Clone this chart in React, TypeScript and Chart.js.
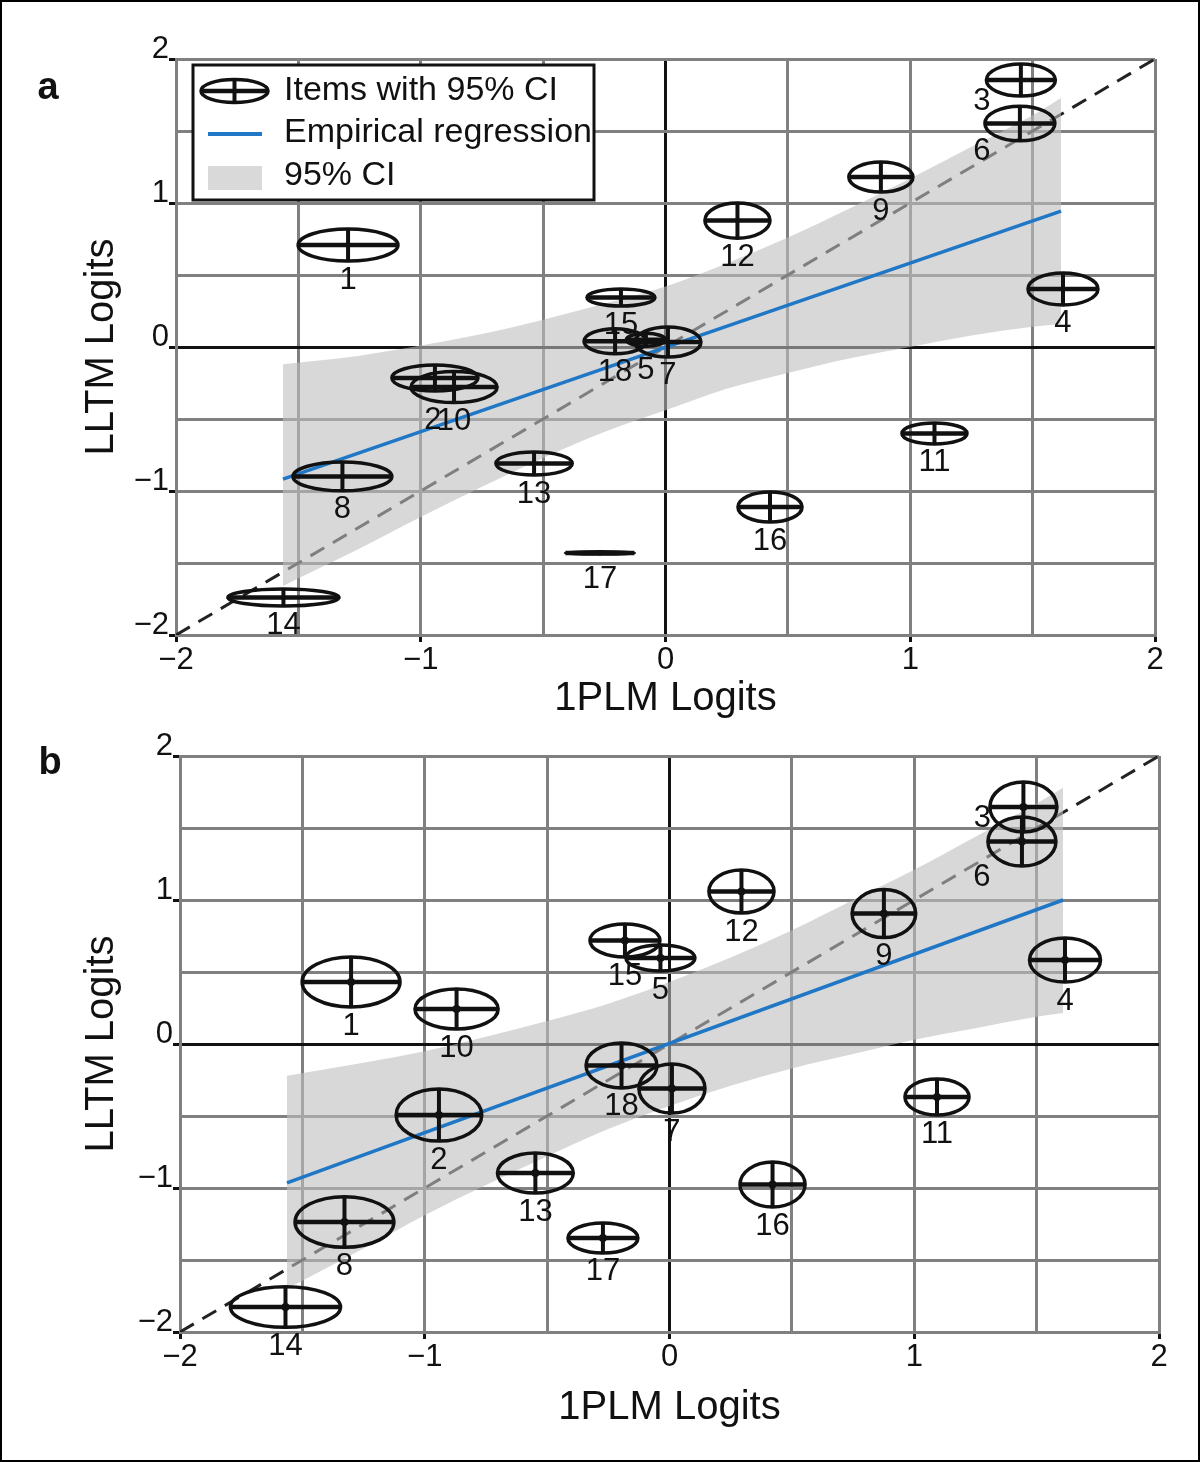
import React, { useEffect, useRef } from 'react';
import { Chart, registerables } from 'chart.js';

Chart.register(...registerables);

const FONT = '"Liberation Sans", Arial, Helvetica, sans-serif';
const BLUE = '#1f77c6';
const BAND = 'rgba(190,190,190,0.6)';
const GRID = '#808080';
const INK = '#111111';

// ---------- data ----------
const itemIds = ['1', '2', '3', '4', '5', '6', '7', '8', '9', '10', '11', '12', '13', '14', '15', '16', '17', '18'];

// Panel a: item estimates (1PLM, LLTM) and half-widths of 95% CI
const aX = [-1.297, -0.942, 1.452, 1.624, -0.08, 1.448, 0.010, -1.32, 0.880, -0.864, 1.099, 0.294, -0.537, -1.561, -0.182, 0.427, -0.268, -0.206];
const aY = [0.708, -0.215, 1.854, 0.403, 0.05, 1.552, 0.035, -0.899, 1.18, -0.278, -0.60, 0.878, -0.809, -1.74, 0.344, -1.111, -1.43, 0.04];
const aCIx = [0.204, 0.176, 0.141, 0.143, 0.08, 0.143, 0.135, 0.202, 0.131, 0.176, 0.133, 0.133, 0.156, 0.227, 0.139, 0.131, 0.141, 0.127];
const aCIy = [0.111, 0.09, 0.111, 0.111, 0.045, 0.12, 0.104, 0.10, 0.104, 0.108, 0.073, 0.122, 0.08, 0.059, 0.059, 0.104, 0.008, 0.087];

// Panel b
const bX = [-1.301, -0.942, 1.446, 1.616, -0.037, 1.440, 0.010, -1.328, 0.876, -0.870, 1.093, 0.294, -0.548, -1.569, -0.182, 0.421, -0.272, -0.196];
const bY = [0.431, -0.493, 1.646, 0.583, 0.597, 1.406, -0.309, -1.236, 0.906, 0.243, -0.368, 1.059, -0.896, -1.826, 0.719, -0.976, -1.347, -0.149];
const bCIx = [0.20, 0.175, 0.137, 0.145, 0.141, 0.139, 0.135, 0.202, 0.13, 0.17, 0.131, 0.133, 0.155, 0.225, 0.143, 0.133, 0.143, 0.145];
const bCIy = [0.174, 0.181, 0.174, 0.153, 0.09, 0.17, 0.17, 0.176, 0.167, 0.139, 0.125, 0.149, 0.139, 0.141, 0.115, 0.156, 0.104, 0.156];

// Empirical regression lines
const aRegX = [-1.563, 1.616];
const aRegY = [-0.917, 0.944];
const bRegX = [-1.563, 1.608];
const bRegY = [-0.965, 1.0];

// 95% CI bands of the regression
const aBandX = [-1.563, -1.25, -1.0, -0.75, -0.5, -0.25, 0, 0.25, 0.5, 0.75, 1.0, 1.25, 1.5, 1.616];
const aBandUp = [-0.12, -0.06, 0.01, 0.09, 0.19, 0.30, 0.42, 0.58, 0.76, 0.96, 1.17, 1.39, 1.61, 1.73];
const aBandLo = [-1.66, -1.40, -1.18, -0.97, -0.77, -0.59, -0.44, -0.29, -0.18, -0.08, 0.0, 0.08, 0.14, 0.16];
const bBandX = [-1.563, -1.25, -1.0, -0.75, -0.5, -0.25, 0, 0.25, 0.5, 0.75, 1.0, 1.25, 1.5, 1.608];
const bBandUp = [-0.22, -0.13, -0.05, 0.05, 0.16, 0.28, 0.43, 0.60, 0.79, 1.0, 1.21, 1.44, 1.67, 1.78];
const bBandLo = [-1.70, -1.42, -1.19, -0.98, -0.78, -0.59, -0.43, -0.29, -0.17, -0.07, 0.03, 0.11, 0.19, 0.215];

// identity line
const identityX = [-2, 2];

const axisMin = -2;
const axisMax = 2;
const xTitle = '1PLM Logits';
const yTitle = 'LLTM Logits';
const legendLabels = ['Items with 95% CI', 'Empirical regression', '95% CI'];

// label nudges (px) for crowded items
const nudgeA: Record<string, [number, number]> = { '2': [-2, 11], '3': [-39, -14], '5': [0, 5], '6': [-38, -8], '17': [0, 6] };
const nudgeB: Record<string, [number, number]> = { '3': [-41, -33], '6': [-40, -8] };

type Panel = {
  letter: string;
  xs: number[]; ys: number[]; cix: number[]; ciy: number[];
  regX: number[]; regY: number[];
  bandX: number[]; bandUp: number[]; bandLo: number[];
  nudge: Record<string, [number, number]>;
  target: { left: number; top: number; right: number; bottom: number };
  xTitlePad: number; yTitlePad: number;
  legend: boolean;
  letterPos: [number, number];
  dot: number;
};

const fmt = (v: number | string) => {
  const n = Number(v);
  if (Math.abs(n - Math.round(n)) > 1e-9) return '';
  return n < 0 ? '\u2212' + Math.abs(n) : String(n);
};

function drawItem(ctx: CanvasRenderingContext2D, cx: number, cy: number, rx: number, ry: number) {
  ctx.strokeStyle = INK;
  ctx.lineWidth = 3.5;
  ctx.beginPath();
  ctx.ellipse(cx, cy, Math.max(rx, 0.5), Math.max(ry, 0.5), 0, 0, Math.PI * 2);
  ctx.stroke();
  ctx.lineWidth = 4.5;
  ctx.beginPath();
  ctx.moveTo(cx - rx, cy);
  ctx.lineTo(cx + rx, cy);
  ctx.stroke();
  ctx.lineWidth = 4;
  ctx.beginPath();
  ctx.moveTo(cx, cy - ry);
  ctx.lineTo(cx, cy + ry);
  ctx.stroke();
}

function makeChart(canvas: HTMLCanvasElement, p: Panel) {
  const pad = { left: 20, top: 30, right: 40, bottom: 20 };

  const itemsPlugin = {
    id: 'items' + p.letter,
    afterDatasetsDraw(chart: any) {
      const { ctx } = chart;
      const xs = chart.scales.x;
      const ys = chart.scales.y;
      ctx.save();
      p.xs.forEach((xv, i) => {
        const cx = xs.getPixelForValue(xv);
        const cy = ys.getPixelForValue(p.ys[i]);
        const rx = Math.abs(xs.getPixelForValue(xv + p.cix[i]) - cx);
        const ry = Math.abs(ys.getPixelForValue(p.ys[i] + p.ciy[i]) - cy);
        drawItem(ctx, cx, cy, rx, ry);
      });
      ctx.fillStyle = INK;
      ctx.font = '31px ' + FONT;
      ctx.textAlign = 'center';
      ctx.textBaseline = 'middle';
      p.xs.forEach((xv, i) => {
        const id = itemIds[i];
        const cx = xs.getPixelForValue(xv);
        const cy = ys.getPixelForValue(p.ys[i]);
        const ry = Math.abs(ys.getPixelForValue(p.ys[i] + p.ciy[i]) - cy);
        const n = p.nudge[id] || [0, 0];
        ctx.fillText(id, cx + n[0], cy + ry + 19 + n[1]);
      });
      ctx.restore();
    },
  };

  const decoPlugin = {
    id: 'deco' + p.letter,
    afterDraw(chart: any) {
      const { ctx, chartArea } = chart;
      ctx.save();
      ctx.fillStyle = INK;
      ctx.font = 'bold 38px ' + FONT;
      ctx.textAlign = 'center';
      ctx.textBaseline = 'alphabetic';
      ctx.fillText(p.letter, p.letterPos[0], p.letterPos[1]);
      if (p.legend) {
        const L = chartArea.left + 17;
        const T = chartArea.top + 6;
        const W = 401;
        const H = 135;
        ctx.fillStyle = '#ffffff';
        ctx.fillRect(L, T, W, H);
        ctx.strokeStyle = INK;
        ctx.lineWidth = 3;
        ctx.strokeRect(L, T, W, H);
        drawItem(ctx, L + 41.5, T + 26, 33.5, 11.5);
        ctx.strokeStyle = BLUE;
        ctx.lineWidth = 4;
        ctx.beginPath();
        ctx.moveTo(L + 15, T + 69);
        ctx.lineTo(L + 69, T + 69);
        ctx.stroke();
        ctx.fillStyle = '#d9d9d9';
        ctx.fillRect(L + 15, T + 101, 54, 24);
        ctx.fillStyle = INK;
        ctx.font = '34px ' + FONT;
        ctx.textAlign = 'left';
        ctx.textBaseline = 'middle';
        const rows = [T + 26, T + 68, T + 111];
        legendLabels.forEach((t, i) => ctx.fillText(t, L + 91, rows[i]));
      }
      ctx.restore();
    },
  };

  const gridOpts = {
    color: (c: any) => (c.tick && c.tick.value === 0 ? INK : GRID),
    lineWidth: 3,
    drawTicks: true,
    tickLength: 7,
    tickWidth: 3,
    tickColor: (c: any) => (c.tick && Number.isInteger(c.tick.value) ? INK : 'rgba(0,0,0,0)'),
  };

  const cfg: any = {
    type: 'line',
    data: {
      datasets: [
        {
          label: 'identity',
          data: identityX.map((v) => ({ x: v, y: v })),
          borderColor: '#222222',
          borderWidth: 3,
          borderDash: [16, 10],
          pointRadius: 0,
          fill: false,
          order: 5,
        },
        {
          label: 'band upper',
          data: p.bandX.map((x, i) => ({ x, y: p.bandUp[i] })),
          borderWidth: 0,
          borderColor: 'rgba(0,0,0,0)',
          backgroundColor: BAND,
          fill: '+1',
          pointRadius: 0,
          tension: 0.3,
          cubicInterpolationMode: 'monotone',
          order: 4,
        },
        {
          label: 'band lower',
          data: p.bandX.map((x, i) => ({ x, y: p.bandLo[i] })),
          borderWidth: 0,
          borderColor: 'rgba(0,0,0,0)',
          fill: false,
          pointRadius: 0,
          tension: 0.3,
          cubicInterpolationMode: 'monotone',
          order: 4,
        },
        {
          label: 'regression',
          data: p.regX.map((x, i) => ({ x, y: p.regY[i] })),
          borderColor: BLUE,
          borderWidth: 3.5,
          pointRadius: 0,
          fill: false,
          order: 2,
        },
        {
          label: 'items',
          data: p.xs.map((x, i) => ({ x, y: p.ys[i] })),
          showLine: false,
          pointRadius: p.dot,
          pointBackgroundColor: INK,
          pointBorderWidth: 0,
          order: 1,
        },
      ],
    },
    options: {
      responsive: false,
      animation: false,
      layout: { padding: pad },
      plugins: { legend: { display: false }, tooltip: { enabled: false } },
      scales: {
        x: {
          type: 'linear',
          min: axisMin,
          max: axisMax,
          ticks: {
            stepSize: 0.5,
            autoSkip: false,
            maxRotation: 0,
            padding: 3,
            color: INK,
            font: { family: FONT, size: 31, lineHeight: 1 },
            callback: fmt,
          },
          grid: gridOpts,
          border: { color: GRID, width: 3 },
          title: {
            display: true,
            text: xTitle,
            color: INK,
            font: { family: FONT, size: 40, lineHeight: 1 },
            padding: { top: p.xTitlePad, bottom: 0 },
          },
        },
        y: {
          type: 'linear',
          min: axisMin,
          max: axisMax,
          ticks: {
            stepSize: 0.5,
            autoSkip: false,
            padding: 0,
            labelOffset: -10,
            color: INK,
            font: { family: FONT, size: 31, lineHeight: 1 },
            callback: fmt,
          },
          grid: gridOpts,
          border: { color: GRID, width: 3 },
          title: {
            display: true,
            text: yTitle,
            color: INK,
            font: { family: FONT, size: 40, lineHeight: 1 },
            padding: { top: 0, bottom: p.yTitlePad },
          },
        },
      },
    },
    plugins: [itemsPlugin, decoPlugin],
  };

  const chart = new Chart(canvas, cfg);
  for (let k = 0; k < 4; k++) {
    const ca = chart.chartArea;
    pad.left += p.target.left - ca.left;
    pad.top += p.target.top - ca.top;
    pad.right += ca.right - p.target.right;
    pad.bottom += ca.bottom - p.target.bottom;
    cfg.options.layout.padding = { ...pad };
    chart.options.layout.padding = { ...pad };
    chart.update();
  }
  return chart;
}

const panelA: Panel = {
  letter: 'a',
  xs: aX, ys: aY, cix: aCIx, ciy: aCIy,
  regX: aRegX, regY: aRegY,
  bandX: aBandX, bandUp: aBandUp, bandLo: aBandLo,
  nudge: nudgeA,
  target: { left: 176, top: 59, right: 1155, bottom: 635 },
  xTitlePad: 0,
  yTitlePad: 12,
  legend: true,
  letterPos: [48, 99],
  dot: 2.5,
};

const panelB: Panel = {
  letter: 'b',
  xs: bX, ys: bY, cix: bCIx, ciy: bCIy,
  regX: bRegX, regY: bRegY,
  bandX: bBandX, bandUp: bBandUp, bandLo: bBandLo,
  nudge: nudgeB,
  target: { left: 180, top: 36, right: 1159, bottom: 612 },
  xTitlePad: 12,
  yTitlePad: 16,
  legend: false,
  letterPos: [50, 54],
  dot: 4,
};

export default function App() {
  const refA = useRef<HTMLCanvasElement>(null);
  const refB = useRef<HTMLCanvasElement>(null);
  useEffect(() => {
    const ca = makeChart(refA.current as HTMLCanvasElement, panelA);
    const cb = makeChart(refB.current as HTMLCanvasElement, panelB);
    return () => {
      ca.destroy();
      cb.destroy();
    };
  }, []);
  return (
    <div style={{ position: 'absolute', left: 0, top: 0, width: 1200, height: 1462, background: '#ffffff' }}>
      <canvas ref={refA} width={1200} height={720} style={{ position: 'absolute', left: 0, top: 0 }} />
      <canvas ref={refB} width={1200} height={742} style={{ position: 'absolute', left: 0, top: 720 }} />
      <div
        style={{
          position: 'absolute',
          left: 0,
          top: 0,
          width: 1200,
          height: 1462,
          border: '2px solid #000',
          boxSizing: 'border-box',
          pointerEvents: 'none',
        }}
      />
    </div>
  );
}
